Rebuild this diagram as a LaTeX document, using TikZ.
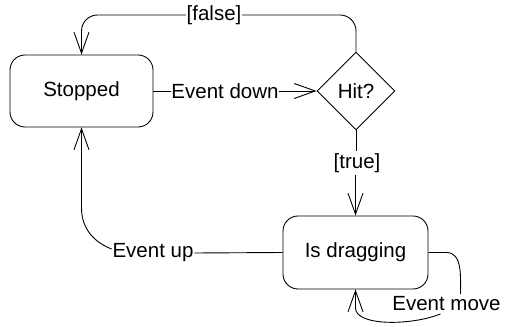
\documentclass[tikz,border=0pt]{standalone}
\usepackage{fontspec}
\setmainfont{Liberation Sans}
\usetikzlibrary{shapes.geometric,arrows.meta,calc}
\begin{document}
\begin{tikzpicture}[x=1pt,y=1pt,
  every node/.style={font=\fontsize{20.5}{24}\selectfont},
  line/.style={line width=0.9pt, draw=black},
  arr/.style={line, -{Straight Barb[length=21pt,width=15pt,line width=0.9pt]}},
  state/.style={draw, line width=0.9pt, rounded corners=15pt, minimum width=143pt, minimum height=72pt, inner sep=0pt},
  choice/.style={draw, line width=0.9pt, diamond, minimum width=78pt, minimum height=78pt, inner sep=0pt},
  lbl/.style={inner sep=0.6pt}]
\useasboundingbox (0,0) rectangle (505,326);
\node[state] (stopped) at (81.5,235) {Stopped};
\node[choice] (hit) at (356,235) {Hit?};
\node[state, minimum width=145pt, minimum height=73pt] (drag) at (355.5,73.5) {Is dragging};
\node[lbl] (fl) at (214,311) {[false]};
\node[lbl] (ed) at (225,235) {Event down};
\node[lbl] (tr) at (357,163) {[true]};
\node[lbl] (eu) at (153,73) {Event up};
\node[lbl] (em) at (446.5,22) {Event move};
\coordinate (eubend) at (81.5,118);
\coordinate (emb) at (355.5,18);
% [false]
\draw[line, rounded corners=16pt] (hit.north) |- (fl.east);
\draw[arr, rounded corners=16pt] (fl.west) -| (stopped.north);
% Event down
\draw[line] (stopped.east) -- (ed.west);
\draw[arr] (ed.east) -- (hit.west);
% [true]
\draw[line] (hit.south) -- ([yshift=2pt]tr.north -| hit.south);
\draw[arr] ([yshift=-2pt]tr.south -| drag.north) -- (drag.north);
% Event up
\draw[line] (drag.west) -- (eu.east);
\draw[arr] ([yshift=4pt]eu.west) .. controls +(-16,6) and +(0,-22) .. (eubend) -- (stopped.south);
% Event move
\draw[line] (drag.east) -- ++(18,0) .. controls +(16,0) and +(0,18) .. ([xshift=14pt,yshift=2pt]em.north);
\draw[arr] ([xshift=-6pt,yshift=-2pt]em.south) .. controls +(-30,-12) and +(0,-18) .. (emb) -- (drag.south);
\end{tikzpicture}
\end{document}
